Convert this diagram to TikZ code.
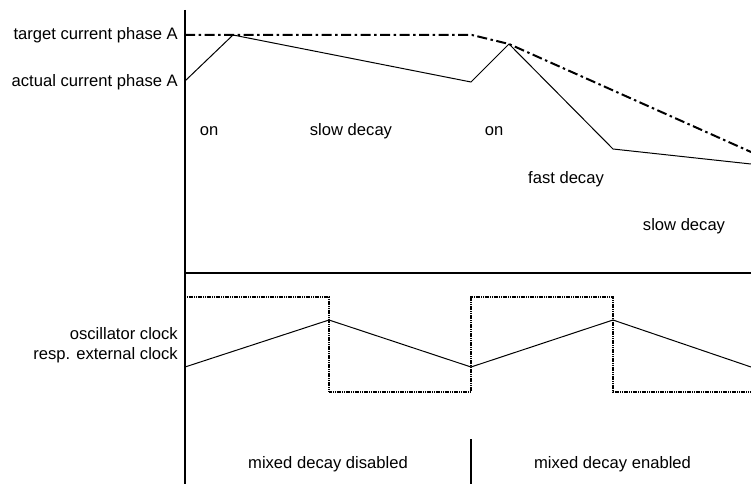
\documentclass[tikz,border=0pt]{standalone}
\usepackage{fontspec}
\setmainfont{Liberation Sans}
\begin{document}
\begin{tikzpicture}[x=1pt,y=-1pt,
  lbl/.style={inner sep=0pt,font=\fontsize{16.6}{19}\selectfont},
  axisline/.style={line width=1.4pt},
  sigline/.style={line width=1pt,line join=miter},
  targetline/.style={line width=2pt,dash pattern=on 10pt off 3.5pt on 2.5pt off 3.5pt},
  clockline/.style={line width=2pt,dash pattern=on 1.2pt off 0.6pt}]
\useasboundingbox (0,0) rectangle (751,484);
% axes
\coordinate (axtop) at (185,10);
\coordinate (axbot) at (185,484);
\coordinate (hl) at (185,273);
\coordinate (hr) at (751,273);
\coordinate (dvt) at (471,439);
\coordinate (dvb) at (471,484);
\draw[axisline] (axtop) -- (axbot);
\draw[sigline,line width=1.2pt] (hl) -- (hr);
\draw[sigline,line width=1.2pt] (dvt) -- (dvb);
% target current
\coordinate (t0) at (185,35);
\coordinate (t1) at (472,35);
\coordinate (t2) at (509,44);
\coordinate (t3) at (751,152);
\draw[targetline] (t0) -- (t1) -- (t2) -- (t3);
% actual current
\coordinate (a0) at (185,81);
\coordinate (a1) at (233,35);
\coordinate (a2) at (471,82);
\coordinate (a3) at (509,44);
\coordinate (a4) at (613,149);
\coordinate (a5) at (751,164);
\draw[sigline] (a0) -- (a1) -- (a2) -- (a3) -- (a4) -- (a5);
% clock square wave
\coordinate (c0) at (185,297);
\coordinate (c1) at (329,297);
\coordinate (c2) at (329,392);
\coordinate (c3) at (471,392);
\coordinate (c4) at (471,297);
\coordinate (c5) at (613,297);
\coordinate (c6) at (613,392);
\coordinate (c7) at (751,392);
\draw[clockline] (c0) -- (c1) -- (c2) -- (c3) -- (c4) -- (c5) -- (c6) -- (c7);
% triangle
\coordinate (r0) at (185,367);
\coordinate (r1) at (329,320);
\coordinate (r2) at (471,367);
\coordinate (r3) at (613,320);
\coordinate (r4) at (751,367);
\draw[sigline] (r0) -- (r1) -- (r2) -- (r3) -- (r4);
% labels
\node[lbl,anchor=base east] (ltarget) at (178,40) {target current phase A};
\node[lbl,anchor=base east] (lactual) at (178,87) {actual current phase A};
\node[lbl,anchor=base east] (losc) at (178,339) {oscillator clock};
\node[lbl,anchor=base east] (lresp) at (178,359) {resp. external clock};
\node[lbl,anchor=base] (on1) at (209,135) {on};
\node[lbl,anchor=base] (slow1) at (351,135) {slow decay};
\node[lbl,anchor=base] (on2) at (494,135) {on};
\node[lbl,anchor=base] (fast) at (566,183) {fast decay};
\node[lbl,anchor=base] (slow2) at (684,230) {slow decay};
\node[lbl,anchor=base] (mdd) at (328,468) {mixed decay disabled};
\node[lbl,anchor=base] (mde) at (612.5,468) {mixed decay enabled};
\end{tikzpicture}
\end{document}
